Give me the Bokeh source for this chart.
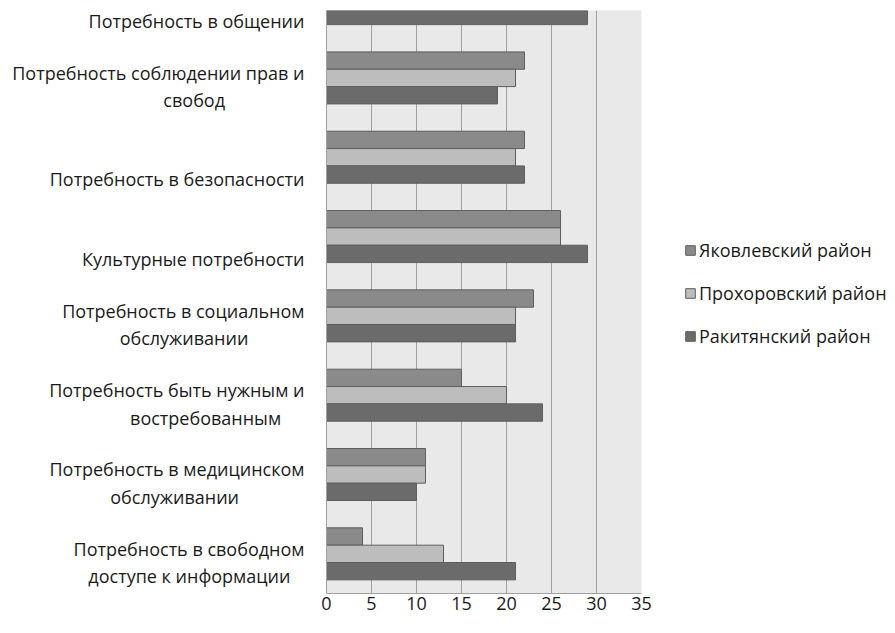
from bokeh.plotting import figure
from bokeh.models import Range1d, FixedTicker, Legend, LegendItem, ColumnDataSource
from bokeh.layouts import row
from bokeh.embed import file_html
from bokeh.resources import INLINE

NB = "\u00a0"
# categories from bottom to top (trailing no-break spaces center the second line)
categories = [
    "Потребность в свободном\nдоступе к информации" + NB * 3,
    "Потребность в медицинском\nобслуживании" + NB * 14,
    "Потребность быть нужным и\nвостребованным" + NB * 5,
    "Потребность в социальном\nобслуживании" + NB * 12,
    "Культурные потребности",
    "Потребность в безопасности",
    "Потребность соблюдении прав и\nсвобод" + NB * 17,
    "Потребность в общении",
]
series_names = ["Яковлевский район", "Прохоровский район", "Ракитянский район"]
yakovlev = [4, 11, 15, 23, 26, 22, 22, float("nan")]
prokhorov = [13, 11, 20, 21, 26, 21, 21, float("nan")]
rakitya = [21, 10, 24, 21, 29, 22, 19, 29]
x_ticks = [0, 5, 10, 15, 20, 25, 30, 35]

colors = ["#8a8a8a", "#bdbdbd", "#6b6b6b"]
FONT = "Open Sans"
FS = "18px"
TXT = "#1a1a1a"

STEP = 100
BAR_H = 21.86
centers = [i * STEP for i in range(len(categories))]

p = figure(width=660, height=625, x_range=Range1d(0, 35), y_range=Range1d(-50, 685),
           output_backend="svg", toolbar_location=None,
           min_border_left=326, min_border_right=19, min_border_top=10, min_border_bottom=32)
p.background_fill_color = "#e9e9e9"
p.border_fill_color = "white"
p.outline_line_color = None

offsets = [BAR_H, 0, -BAR_H]
renderers = []
for vals, off, col in zip([yakovlev, prokhorov, rakitya], offsets, colors):
    src = ColumnDataSource(dict(y=[c + off for c in centers], right=vals))
    r = p.hbar(y="y", left=0, right="right", height=BAR_H, source=src,
               fill_color=col, line_color="#5e5e5e", line_width=1)
    renderers.append(r)

# axes
p.xaxis.ticker = FixedTicker(ticks=x_ticks)
p.xaxis.major_tick_line_color = None
p.xaxis.minor_tick_line_color = None
p.xaxis.axis_line_color = "#a0a0a0"
p.xaxis.major_label_text_font = FONT
p.xaxis.major_label_text_font_size = FS
p.xaxis.major_label_text_color = TXT
p.xaxis.major_label_standoff = -3

label_pos = []
overrides = {}
for c, name in zip(centers, categories):
    pos = c - (11 if "\n" in name else 28)
    label_pos.append(pos)
    overrides[pos] = name
p.yaxis.ticker = FixedTicker(ticks=label_pos)
p.yaxis.major_label_overrides = overrides
p.yaxis.major_tick_line_color = None
p.yaxis.minor_tick_line_color = None
p.yaxis.axis_line_color = "#a0a0a0"
p.yaxis.major_label_text_font = FONT
p.yaxis.major_label_text_font_size = FS
p.yaxis.major_label_text_color = TXT
p.yaxis.major_label_text_line_height = 1.15
p.yaxis.major_label_standoff = 16

p.xgrid.ticker = FixedTicker(ticks=x_ticks)
p.xgrid.grid_line_color = "#a0a0a0"
p.ygrid.grid_line_color = None

# legend panel
q = figure(width=232, height=625, x_range=Range1d(0, 1), y_range=Range1d(0, 1),
           output_backend="svg", toolbar_location=None,
           min_border_left=0, min_border_right=0, min_border_top=0, min_border_bottom=0)
q.axis.visible = False
q.grid.visible = False
q.outline_line_color = None
q.background_fill_color = "white"
legend_renderers = []
for col in colors:
    # an empty (NaN) bar per series, only so the legend has a glyph to show
    legend_renderers.append(q.hbar(y=[float("nan")], left=[0], right=[1], height=0.1,
                                   fill_color=col, line_color="#5e5e5e", line_width=1))

legend = Legend(items=[LegendItem(label=n, renderers=[r]) for n, r in zip(series_names, legend_renderers)],
                location=(24, 245), orientation="vertical")
legend.background_fill_alpha = 0
legend.border_line_color = None
legend.padding = 0
legend.margin = 0
legend.spacing = 19
legend.glyph_width = 12
legend.glyph_height = 12
legend.label_height = 21
legend.label_standoff = 3
legend.label_text_font = FONT
legend.label_text_font_size = FS
legend.label_text_color = TXT
q.add_layout(legend)

layout = row(p, q, spacing=0)
open("out.html", "w").write(file_html(layout, INLINE))
